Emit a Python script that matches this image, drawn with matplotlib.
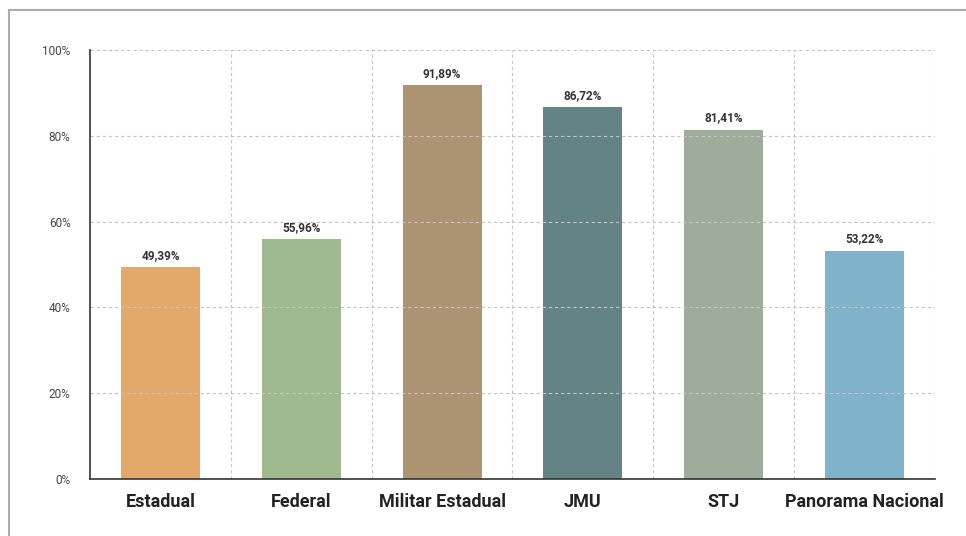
import matplotlib
matplotlib.use("Agg")
import matplotlib.pyplot as plt
from matplotlib.lines import Line2D
from matplotlib import font_manager

categories = ["Estadual", "Federal", "Militar Estadual", "JMU", "STJ", "Panorama Nacional"]
values = [49.39, 55.96, 91.89, 86.72, 81.41, 53.22]
colors = ["#E3A96B", "#A0BA90", "#AC9473", "#648385", "#A0AC9B", "#80B2C9"]
yticks = [0, 20, 40, 60, 80, 100]

avail = {f.name for f in font_manager.fontManager.ttflist}
fams = [f for f in ["Liberation Sans Narrow", "Roboto", "DejaVu Sans"] if f in avail]
plt.rcParams["font.family"] = fams

fig = plt.figure(figsize=(9.66, 5.36), dpi=100)
ax = fig.add_axes([90/966, 57/536, 845/966, 429/536])

x = list(range(len(categories)))
ax.bar(x, values, width=0.56, color=colors, zorder=2)
for xi, v in zip(x, values):
    ax.text(xi, v + 1.2, f"{v:.2f}".replace(".", ",") + "%", ha="center", va="bottom",
            fontsize=8.5, fontweight="bold", color="#333333", zorder=4)

ax.set_xlim(-0.5, len(categories) - 0.5)
ax.set_ylim(0, 100)
ax.set_yticks(yticks)
ax.set_yticklabels([f"{t}%" for t in yticks], fontsize=8.5, color="#444444")
ax.set_xticks(x)
ax.set_xticklabels(categories, fontsize=13, fontweight="bold", color="#222222")
ax.tick_params(axis="y", length=0, pad=14)
ax.tick_params(axis="x", length=0, pad=10)

for t in yticks[1:]:
    ax.axhline(t, color="#C4C4C4", lw=0.8, ls=(0, (3, 2.5)), zorder=3)
for b in [i + 0.5 for i in x]:
    ax.axvline(b, color="#C4C4C4", lw=0.8, ls=(0, (3, 2.5)), zorder=3)

for s in ["top", "right"]:
    ax.spines[s].set_visible(False)
for s in ["left", "bottom"]:
    ax.spines[s].set_color("#333333")
    ax.spines[s].set_linewidth(1.2)
    ax.spines[s].set_zorder(5)

# outer frame (top and left only visible)
fig.add_artist(Line2D([8.5/966, 1.0], [1 - 9.5/536, 1 - 9.5/536], transform=fig.transFigure,
                      color="#AAAAAA", lw=1.5))
fig.add_artist(Line2D([8.5/966, 8.5/966], [0, 1 - 9.5/536], transform=fig.transFigure,
                      color="#AAAAAA", lw=1.5))

fig.savefig("out.png", dpi=100)
